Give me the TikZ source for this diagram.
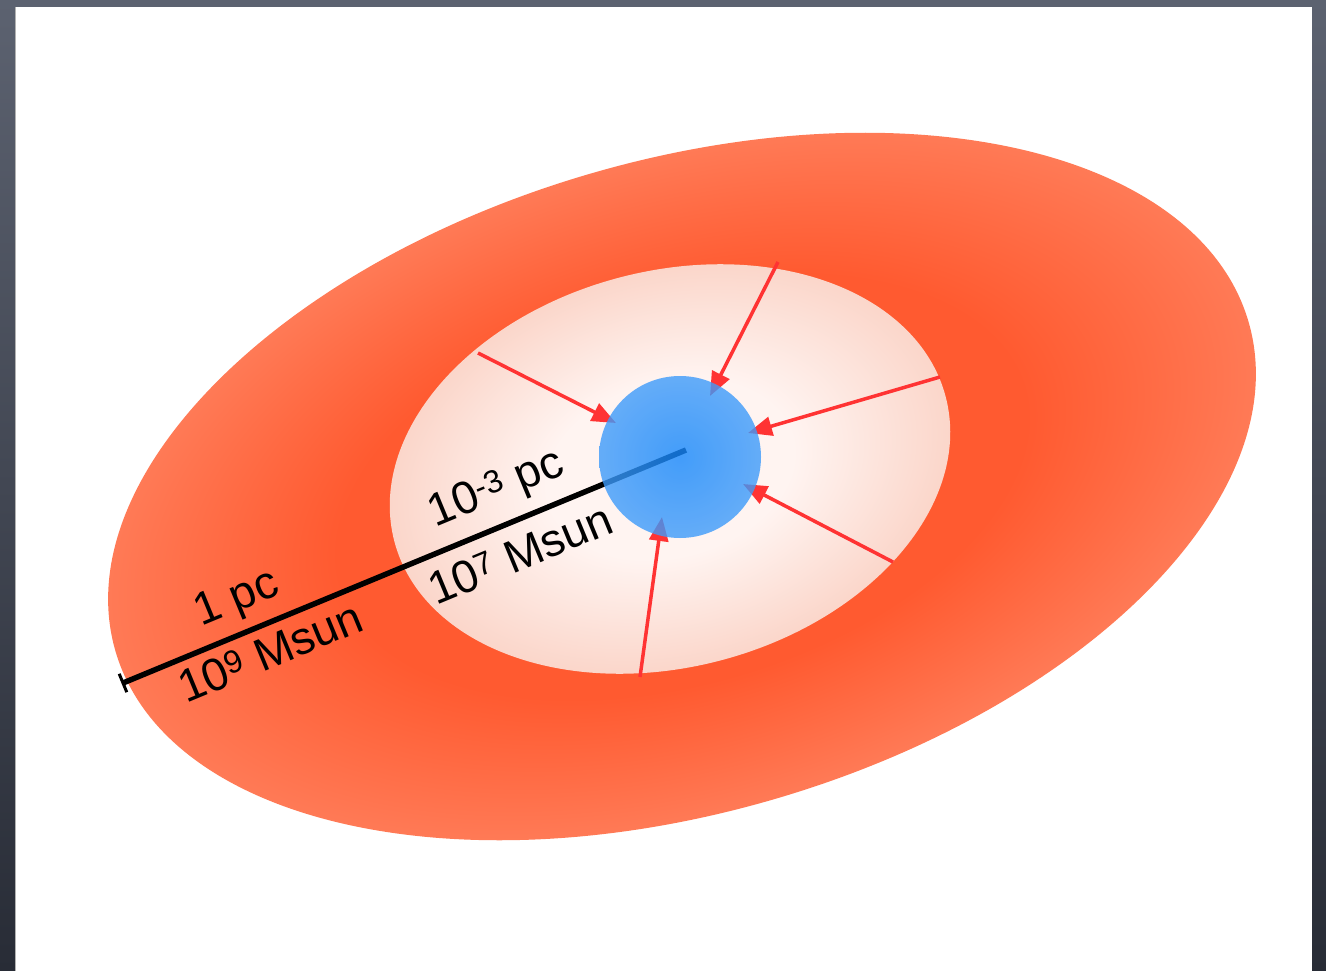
\documentclass[tikz,border=0pt]{standalone}
\usepackage{fontspec}
\setmainfont{Liberation Sans}
\usetikzlibrary{arrows.meta}
\definecolor{slidetop}{RGB}{92,98,112}
\definecolor{slidebot}{RGB}{40,44,54}
\definecolor{ringA}{RGB}{255,90,48}
\definecolor{ringB}{RGB}{255,122,86}
\definecolor{coreA}{RGB}{255,244,241}
\definecolor{coreB}{RGB}{251,214,202}
\definecolor{bhA}{RGB}{20,135,253}
\definecolor{bhB}{RGB}{62,155,250}
\definecolor{flow}{RGB}{255,51,51}
\pgfdeclareradialshading{outerring}{\pgfpoint{0bp}{0bp}}{color(0bp)=(ringA); color(15bp)=(ringA); color(25bp)=(ringB); color(50bp)=(ringB)}
\pgfdeclareradialshading{innercore}{\pgfpoint{0bp}{0bp}}{color(0bp)=(coreA); color(11bp)=(coreA); color(25bp)=(coreB); color(50bp)=(coreB)}
\pgfdeclareradialshading{bhshade}{\pgfpoint{0bp}{0bp}}{color(0bp)=(bhA); color(25bp)=(bhB); color(50bp)=(bhB)}
\tikzset{
  inflow/.style={draw=flow, line width=3.5pt, -{Triangle[length=24pt,width=19pt]}},
  scalebar/.style={draw=black, line width=5.5pt},
  lbl/.style={font=\fontsize{46}{50}\selectfont, inner sep=0pt, rotate=22.5},
}
\begin{document}
\begin{tikzpicture}[x=1pt,y=-1pt]
\useasboundingbox (0,0) rectangle (1326,971);
% slide background
\shade[top color=slidetop, bottom color=slidebot] (0,0) rectangle (1326,971);
\fill[white] (16,7) rectangle (1312,972);
\draw[gray!60, line width=1pt] (15.5,7) -- (15.5,972);
% outer ellipse
\begin{scope}[transform canvas={shift={(682,486.5)},rotate=16.2}]
  \shade[shading=outerring] (0,0) ellipse [x radius=590, y radius=326];
\end{scope}
% inner ellipse
\begin{scope}[transform canvas={shift={(670,469)},rotate=14.7}]
  \shade[shading=innercore] (0,0) ellipse [x radius=285, y radius=198];
\end{scope}
% scale bar
\coordinate (barL) at (123,683);
\coordinate (barR) at (686,450);
\coordinate (tickA) at (119.2,673.8);
\coordinate (tickB) at (126.8,692.2);
\draw[scalebar] (barL) -- (barR);
\draw[draw=black, line width=3pt] (tickA) -- (tickB);
% labels
\node[lbl] (pc1) at (237,600) {1 pc};
\node[lbl] (ms9) at (270,652) {10\textsuperscript{9} Msun};
\node[lbl] (pc3) at (497,490) {10\textsuperscript{-3} pc};
\node[lbl] (ms7) at (520,554) {10\textsuperscript{7} Msun};
% inflow arrows
\coordinate (s1) at (478,353); \coordinate (e1) at (616,423);
\coordinate (s2) at (778,262); \coordinate (e2) at (710,396);
\coordinate (s3) at (940,377); \coordinate (e3) at (748,433);
\coordinate (s4) at (893,562); \coordinate (e4) at (743,484);
\coordinate (s5) at (640,677); \coordinate (e5) at (662,517);
\draw[inflow] (s1) -- (e1);
\draw[inflow] (s2) -- (e2);
\draw[inflow] (s3) -- (e3);
\draw[inflow] (s4) -- (e4);
\draw[inflow] (s5) -- (e5);
% central blue sphere
\shade[shading=bhshade, fill opacity=0.8] (680,457) circle [radius=81];
\end{tikzpicture}
\end{document}
